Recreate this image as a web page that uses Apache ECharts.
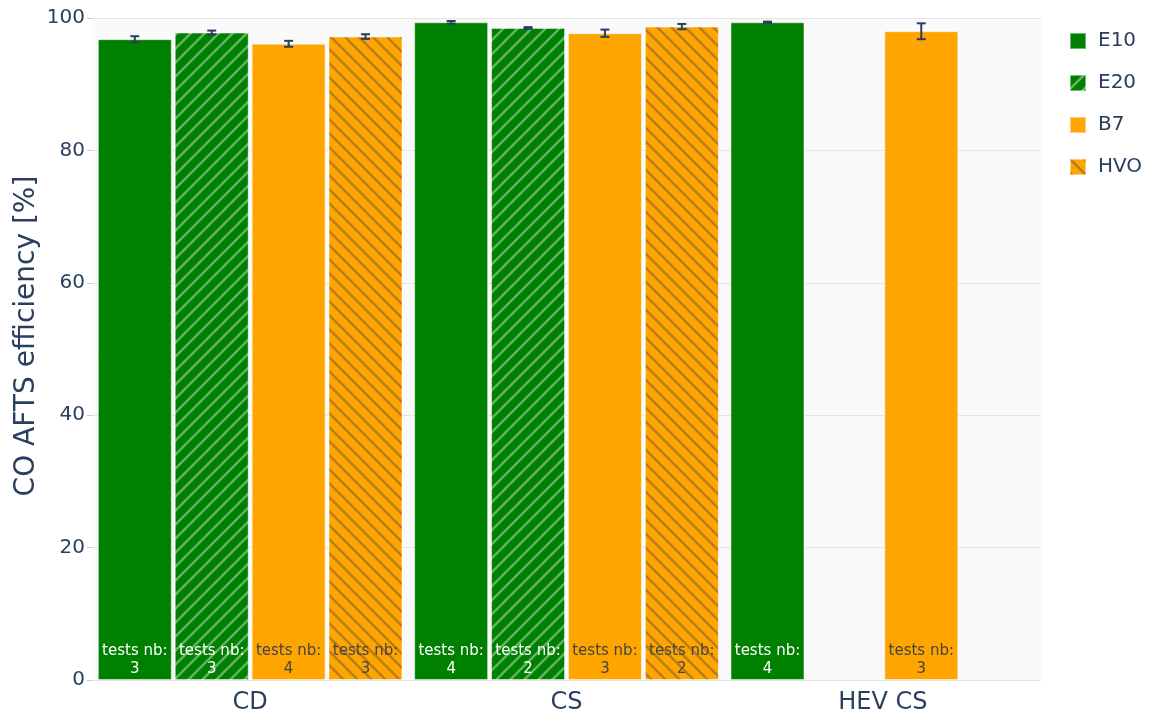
<!DOCTYPE html>
<html>
<head>
<meta charset="utf-8">
<script src="https://cdn.jsdelivr.net/npm/echarts@6/dist/echarts.min.js"></script>
<style>
  html, body { margin: 0; padding: 0; background: #fff; }
  #chart { width: 1163px; height: 717px; }
</style>
</head>
<body>
<div id="chart"></div>
<script>
// Test modes on the x axis
const categories = ['CD', 'CS', 'HEV CS'];
const fuels = ['E10', 'E20', 'B7', 'HVO'];
const yTitle = 'CO AFTS efficiency [%]';

// CO after-treatment efficiency [%] per fuel, one entry per mode
const e10 = [96.8, 99.35, 99.35];
const e20 = [97.8, 98.5, null];
const b7  = [96.1, 97.7, 98.0];
const hvo = [97.2, 98.7, null];

// Standard deviation per fuel and mode
const e10Err = [0.45, 0.2, 0.1];
const e20Err = [0.3, 0.12, null];
const b7Err  = [0.45, 0.55, 1.2];
const hvoErr = [0.35, 0.4, null];

// Number of tests per fuel and mode
const e10Tests = [3, 4, 4];
const e20Tests = [3, 2, null];
const b7Tests  = [4, 3, 3];
const hvoTests = [3, 2, null];

const TXT = '#2a3f5f';
const FONT = '"DejaVu Sans", Verdana, sans-serif';
const GREEN = '#008000';
const ORANGE = '#FFA500';

const CAT_GAP = 0.037;   // barCategoryGap
const BAR_GAP = 0.04;    // barGap

// Hatched fill: base colour plus diagonal lines ('/' or '\')
function hatch(base, line, dir) {
  const s = 14;
  const c = document.createElement('canvas');
  c.width = s; c.height = s;
  const g = c.getContext('2d');
  g.fillStyle = base;
  g.fillRect(0, 0, s, s);
  g.strokeStyle = line;
  g.lineWidth = 2.4;
  g.beginPath();
  if (dir === '/') {
    g.moveTo(-2, s + 2); g.lineTo(s + 2, -2);
    g.moveTo(-2, 2); g.lineTo(2, -2);
    g.moveTo(s - 2, s + 2); g.lineTo(s + 2, s - 2);
  } else {
    g.moveTo(-2, -2); g.lineTo(s + 2, s + 2);
    g.moveTo(s - 2, -2); g.lineTo(s + 2, 2);
    g.moveTo(-2, s - 2); g.lineTo(2, s + 2);
  }
  g.stroke();
  return { image: c, repeat: 'repeat' };
}

const seriesDefs = [
  { name: 'E10', values: e10, errs: e10Err, tests: e10Tests, color: GREEN, labelColor: '#ffffff' },
  { name: 'E20', values: e20, errs: e20Err, tests: e20Tests,
    color: hatch(GREEN, 'rgba(255,255,255,0.4)', '/'), labelColor: '#ffffff' },
  { name: 'B7', values: b7, errs: b7Err, tests: b7Tests, color: ORANGE, labelColor: '#444444' },
  { name: 'HVO', values: hvo, errs: hvoErr, tests: hvoTests,
    color: hatch(ORANGE, 'rgba(68,68,68,0.4)', '\\'), labelColor: '#444444' }
];

const barSeries = seriesDefs.map(function (d) {
  return {
    name: d.name,
    type: 'bar',
    barCategoryGap: (CAT_GAP * 100) + '%',
    barGap: (BAR_GAP * 100) + '%',
    data: d.values.map(function (v, i) {
      return v == null ? null : { value: v, tests: d.tests[i] };
    }),
    itemStyle: { color: d.color, borderColor: 'rgba(255,255,255,0.45)', borderWidth: 1 },
    label: {
      show: true,
      position: 'insideBottom',
      distance: 2,
      fontFamily: FONT,
      fontSize: 15,
      lineHeight: 18,
      color: d.labelColor,
      align: 'center',
      formatter: function (p) { return 'tests nb:\n' + p.data.tests; }
    },
    emphasis: { disabled: true },
    z: 2
  };
});

// Error bar rows: [category index, series index, value, error]
const errRows = [];
seriesDefs.forEach(function (d, si) {
  d.values.forEach(function (v, ci) {
    if (v != null && d.errs[ci] != null) errRows.push([ci, si, v, d.errs[ci]]);
  });
});

const n = seriesDefs.length;
const errorSeries = {
  type: 'custom',
  name: 'err',
  data: errRows,
  encode: { x: 0, y: 2 },
  z: 5,
  silent: true,
  renderItem: function (params, api) {
    const ci = api.value(0), si = api.value(1), v = api.value(2), e = api.value(3);
    const catW = api.size([1, 0])[0];
    const avail = catW * (1 - CAT_GAP);
    const bw = avail / (n + (n - 1) * BAR_GAP);
    const center = api.coord([ci, 0])[0];
    const x = center - avail / 2 + bw / 2 + si * bw * (1 + BAR_GAP);
    const yTop = api.coord([ci, v + e])[1];
    const yBot = api.coord([ci, v - e])[1];
    const hw = 4.5;
    const style = { stroke: TXT, lineWidth: 2, fill: null };
    return {
      type: 'group',
      children: [
        { type: 'line', shape: { x1: x, y1: yTop, x2: x, y2: yBot }, style: style },
        { type: 'line', shape: { x1: x - hw, y1: yTop, x2: x + hw, y2: yTop }, style: style },
        { type: 'line', shape: { x1: x - hw, y1: yBot, x2: x + hw, y2: yBot }, style: style }
      ]
    };
  }
};

const chart = echarts.init(document.getElementById('chart'), null, { renderer: 'canvas' });
chart.setOption({
  animation: false,
  backgroundColor: '#ffffff',
  textStyle: { fontFamily: FONT, color: TXT },
  grid: {
    left: 92, right: 122, top: 18, bottom: 37,
    show: true, backgroundColor: '#fafafa', borderWidth: 0
  },
  legend: {
    data: fuels,
    orient: 'vertical',
    left: 1064,
    top: 26,
    itemWidth: 16,
    itemHeight: 16,
    itemGap: 22,
    icon: 'rect',
    textStyle: { fontFamily: FONT, fontSize: 20, color: TXT, padding: [0, 0, 0, 7], lineHeight: 20 }
  },
  // Rotated y-axis title
  graphic: [{
    type: 'text',
    x: 27,
    y: 336,
    rotation: Math.PI / 2,
    silent: true,
    style: {
      text: yTitle,
      font: '28px ' + FONT,
      fill: TXT,
      textAlign: 'center',
      textVerticalAlign: 'middle'
    }
  }],
  xAxis: {
    type: 'category',
    data: categories,
    axisLine: { show: false },
    axisTick: { show: false },
    axisLabel: { fontFamily: FONT, fontSize: 24, color: TXT, margin: 11 },
    splitLine: { show: false }
  },
  yAxis: {
    type: 'value',
    min: 0,
    max: 100,
    interval: 20,
    axisLine: { show: false },
    axisTick: { show: true, inside: false, length: 5, lineStyle: { color: '#cccccc' } },
    axisLabel: { fontFamily: FONT, fontSize: 20, color: TXT, margin: 7 },
    splitLine: { show: true, lineStyle: { color: '#e5e5e5', width: 1 } }
  },
  series: barSeries.concat([errorSeries])
});
</script>
</body>
</html>
